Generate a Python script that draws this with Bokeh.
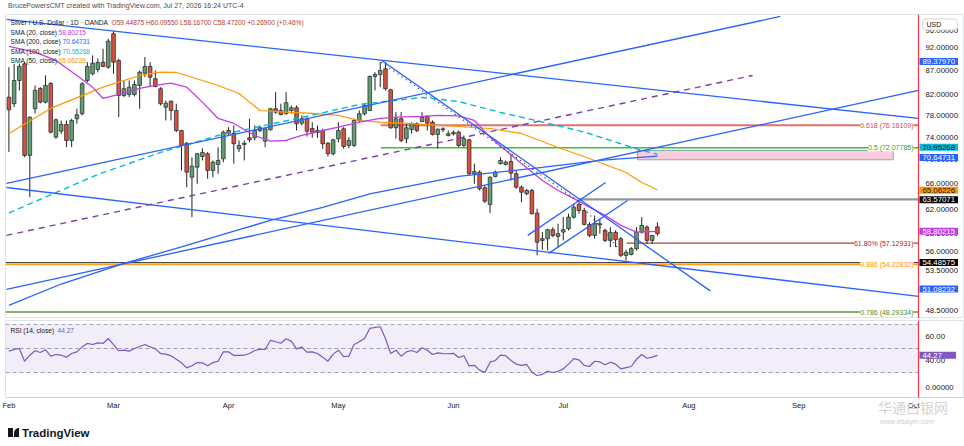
import numpy as np
from bokeh.plotting import figure
from bokeh.models import (ColumnDataSource, Range1d, FixedTicker, Label, Span, BoxAnnotation, Div)
from bokeh.layouts import column
from bokeh.embed import file_html
from bokeh.resources import INLINE

# ---------------- data ----------------
opens = [81.56, 80.26, 84.94, 88.48, 70.76, 79.28, 83.31, 80.57, 84.33, 73.98,
         75.06, 76.31, 73.38, 77.37, 78.32, 84.94, 86.35, 87.26, 88.82, 87.75,
         95.20, 89.19, 81.90, 82.10, 82.10, 83.92, 86.47, 87.90, 85.30, 83.25,
         79.59, 80.76, 78.95, 75.19, 72.90, 67.10, 68.76, 70.58, 71.05, 68.21,
         69.22, 70.18, 75.19, 74.70, 71.92, 72.90, 73.87, 73.87, 75.19, 73.26,
         75.32, 79.28, 78.95, 78.32, 78.95, 79.48, 76.55, 77.37, 75.56, 74.83,
         75.19, 72.90, 71.05, 73.69, 75.50, 72.50, 72.50, 77.05, 78.32, 78.95,
         85.78, 86.20, 87.40, 83.04, 75.69, 77.37, 73.69, 75.38, 76.44, 76.86,
         77.81, 76.73, 74.47, 75.50, 74.28, 74.56, 74.88, 72.50, 73.51, 67.67,
         67.93, 65.39, 62.79, 67.22, 69.34, 69.22, 69.72, 67.67, 65.49, 64.45,
         64.96, 61.47, 57.51, 57.75, 59.03, 58.08, 58.69, 59.18, 60.87, 62.79,
         61.87, 59.80, 58.22, 59.90, 58.93, 57.51, 58.65, 57.75, 55.45, 55.58,
         56.36, 58.69, 59.41, 57.51, 59.44875]
highs = [87.75, 88.48, 88.48, 88.82, 77.81, 83.92, 83.57, 85.99, 84.59, 77.43,
         77.05, 77.05, 77.37, 79.28, 84.59, 88.82, 90.29, 89.63, 91.77, 94.04,
         95.80, 89.56, 84.94, 84.94, 84.94, 87.04, 89.92, 88.82, 87.04, 83.57,
         80.90, 80.90, 80.26, 75.30, 73.08, 70.46, 71.15, 71.97, 71.33, 69.89,
         72.20, 75.19, 75.80, 76.12, 73.38, 73.38, 77.37, 76.12, 76.12, 75.69,
         79.48, 82.56, 80.26, 82.56, 79.93, 79.93, 78.00, 77.68, 76.73, 76.12,
         75.50, 73.08, 73.69, 76.73, 75.80, 74.00, 77.37, 78.95, 80.26, 85.99,
         86.68, 88.82, 88.82, 83.25, 78.63, 78.63, 76.44, 76.73, 76.73, 78.63,
         78.00, 77.05, 75.56, 75.80, 75.19, 75.19, 75.19, 74.28, 73.69, 69.34,
         68.21, 65.76, 67.22, 68.21, 70.46, 69.89, 71.05, 68.21, 65.76, 65.23,
         65.23, 62.13, 58.69, 59.18, 59.41, 59.90, 60.87, 61.38, 62.89, 63.14,
         62.13, 60.13, 61.12, 60.63, 59.18, 59.41, 58.93, 57.98, 56.22, 56.58,
         59.41, 60.87, 59.66, 58.30, 60.09550]
lows = [71.33, 79.59, 82.90, 70.46, 63.91, 78.38, 80.32, 80.32, 74.65, 73.69,
        74.59, 72.20, 72.20, 76.44, 78.00, 84.59, 85.99, 86.62, 87.75, 87.40,
        86.35, 77.68, 81.56, 81.56, 81.70, 79.28, 85.63, 83.57, 83.57, 79.93,
        77.05, 77.05, 74.88, 68.21, 65.49, 60.87, 66.03, 69.89, 66.84, 67.10,
        67.67, 69.60, 74.28, 69.34, 71.33, 69.89, 73.08, 73.38, 74.88, 72.20,
        75.19, 78.32, 78.00, 78.19, 78.32, 75.19, 76.12, 74.10, 73.87, 73.87,
        71.92, 70.58, 70.76, 73.08, 71.92, 72.00, 72.20, 76.73, 78.00, 78.81,
        82.90, 83.57, 82.90, 75.50, 73.69, 73.08, 72.90, 74.65, 74.88, 76.73,
        75.19, 74.28, 71.97, 74.88, 74.10, 74.28, 72.20, 72.20, 67.39, 66.03,
        64.96, 62.99, 61.47, 67.06, 69.22, 69.05, 66.56, 65.23, 63.13, 64.18,
        61.27, 55.45, 56.22, 56.12, 57.98, 56.56, 57.51, 58.93, 60.63, 61.38,
        59.66, 57.98, 57.75, 58.46, 57.27, 56.58, 56.58, 55.22, 54.77, 55.45,
        56.12, 58.46, 57.04, 57.04, 58.16700]
closes = [79.09, 84.94, 87.90, 70.76, 77.68, 82.90, 80.57, 83.92, 74.88, 77.18,
          76.31, 73.38, 77.05, 78.13, 84.27, 87.90, 88.61, 88.76, 87.90, 93.49,
          88.82, 81.90, 83.25, 83.57, 84.12, 86.68, 87.90, 85.63, 83.72, 80.26,
          80.37, 78.95, 75.19, 72.50, 67.93, 68.93, 71.05, 71.27, 68.21, 69.60,
          69.89, 74.88, 74.59, 72.80, 72.50, 72.68, 73.51, 75.19, 75.69, 75.50,
          79.28, 78.63, 78.19, 80.45, 79.48, 76.44, 77.37, 75.06, 74.88, 75.19,
          72.80, 71.05, 73.51, 75.19, 72.32, 73.40, 77.05, 78.32, 79.93, 85.78,
          86.20, 87.04, 83.25, 75.69, 77.37, 73.38, 75.69, 76.44, 75.19, 77.68,
          76.55, 74.47, 75.43, 75.32, 74.59, 74.83, 72.50, 73.69, 67.67, 68.05,
          65.23, 63.29, 67.10, 67.93, 69.89, 69.60, 67.76, 65.49, 64.69, 64.96,
          61.38, 57.27, 57.75, 59.03, 58.22, 58.46, 59.03, 60.87, 62.37, 61.87,
          59.80, 58.22, 59.90, 59.73, 57.51, 58.65, 57.61, 55.45, 55.86, 56.36,
          58.69, 59.66, 57.51, 58.203, 58.47200]

rsi_vals = [47.8, 49.2, 50.0, 39.4, 44.4, 48.1, 46.7, 48.9, 43.6, 45.0,
            44.4, 42.8, 45.8, 47.2, 51.4, 54.2, 53.3, 54.7, 54.2, 58.3,
            53.3, 48.1, 48.6, 47.8, 50.0, 51.7, 53.3, 51.4, 49.7, 45.8,
            45.3, 43.9, 41.1, 38.1, 33.9, 35.6, 38.3, 38.1, 35.6, 38.3,
            39.4, 47.2, 47.2, 44.2, 44.2, 44.4, 45.8, 48.3, 49.2, 49.2,
            56.7, 55.6, 54.4, 58.1, 56.1, 49.7, 51.1, 46.9, 47.2, 45.8,
            42.8, 39.4, 45.3, 48.6, 43.3, 43.6, 53.3, 55.6, 58.3, 66.7,
            67.5, 68.1, 58.3, 45.8, 48.6, 43.6, 47.2, 48.3, 46.7, 50.6,
            48.6, 45.0, 46.4, 45.8, 45.6, 46.0, 42.5, 44.0, 35.5, 36.0,
            32.0, 30.0, 38.6, 40.0, 44.5, 44.0, 40.0, 37.0, 36.0, 36.7,
            30.3, 27.5, 28.5, 31.0, 30.0, 31.0, 33.0, 37.0, 41.5, 40.5,
            36.0, 35.0, 39.4, 38.8, 36.5, 38.6, 37.0, 33.1, 34.0, 35.0,
            41.0, 45.0, 41.9, 42.8, 44.27]

sma20_idx = [0, 5, 9, 13, 16, 18, 21, 25, 28, 31, 34, 37, 40, 43, 47, 50, 53, 56, 60,
             63, 67, 71, 74, 79, 82, 86, 89, 92, 95, 98, 102, 105, 108, 111, 114, 117, 120, 124]
sma20_vals = [92.29, 91.02, 89.19, 85.99, 83.57, 81.30, 82.10, 83.31, 83.92, 84.39, 83.57,
              80.57, 77.43, 76.49, 74.28, 73.26, 73.38, 74.28, 75.19, 75.80, 76.73, 77.43,
              77.68, 77.81, 78.00, 77.91, 77.05, 73.98, 71.62, 69.38, 66.56, 64.96, 63.71,
              62.38, 61.13, 59.66, 58.69, 58.80215]
sma50_idx = [0, 8, 18, 25, 29, 32, 34, 40, 44, 48, 53, 58, 63, 67, 71, 76, 82, 86, 92,
             98, 105, 111, 118, 121, 124]
sma50_vals = [74.65, 79.35, 83.57, 85.99, 86.68, 86.62, 85.99, 83.92, 82.30, 78.95, 78.63,
              78.38, 78.00, 77.05, 76.73, 76.49, 76.12, 75.93, 75.56, 74.65, 72.14, 70.23,
              67.88, 66.24, 65.06226]
sma100_idx = [0, 17, 29, 40, 56, 67, 79, 86, 94, 104, 110, 117, 120, 124]
sma100_vals = [61.50, 67.55, 71.27, 74.28, 77.62, 80.12, 81.50, 80.70, 78.57, 76.30, 74.90,
               72.80, 71.90, 70.95268]
sma200_idx = [0, 10, 22, 33, 44, 50, 60, 69, 86, 102, 113, 124]
sma200_vals = [49.08, 51.71, 54.37, 56.60, 59.03, 60.38, 62.33, 64.43, 67.22, 68.71, 69.89,
               70.64731]

# drawings (anchor points: bar index, price)
trend_xs = [[-0.46, 173.9], [-0.46, 173.9], [-0.46, 173.9], [-0.46, 147.5],
            [71.3, 134.1], [99.2, 114.1], [103.2, 118.3]]
trend_ys = [[98.57, 77.43], [65.43, 50.17], [51.03, 82.90], [66.08, 99.29],
            [89.19, 50.85], [58.22, 66.24], [55.72, 63.40]]
dash_x = [-0.46, 142.2]
dash_y = [58.22, 85.99]
dotted_x = [71.2, 108.9, 117.9]
dotted_y = [88.82, 63.25, 55.22]
level_values = [76.16109, 72.07785, 63.57071, 57.12931, 54.48575, 54.22832, 48.29334]
level_start = [71.1, 71.1, 108.9, 118.1, -0.65, -0.65, -0.65]
fib_values = [76.16109, 72.07785, 57.12931, 54.22832, 48.29334]
fib_names = ["0.618", "0.5", "61.80%", "0.886", "0.786"]
zone_x = [120.2, 169.1]
zone_y = [70.01, 71.62]
tag_values = [89.37970, 70.95268, 70.64731, 65.06226, 63.57071, 58.80215, 54.48575, 51.08232]
price_ticks = [48.5, 51.0, 53.5, 56.0, 58.5, 62.0, 66.0, 70.0, 74.0, 78.0, 82.0, 87.0, 92.0, 96.0]
month_idx = [0, 20, 42, 63, 85, 106, 130, 151, 173]
month_names = ["Feb", "Mar", "Apr", "May", "Jun", "Jul", "Aug", "Sep", "Oct"]
rsi_ticks = [17.5, 40, 60]
rsi_tick_labels = ["0.00000", "40.00", "60.00"]

# ---------------- layout helpers ----------------
FONT = "Liberation Sans"
X0, X1 = -0.65, 173.92          # bar-index span of the chart area (page x 5 .. 918)
PXI = 913 / (X1 - X0)           # pixels per bar
XE = X0 + 959 / PXI             # right end of the canvas (price scale column)
Y0, Y1 = 47.54, 99.77
FH = 304
FTOP = 14
R0, R1 = 9.2, 73.3
RTOP = 320
GREEN, RED, EDGE = "#5f9f73", "#d6513f", "#222222"
LN = np.log(Y1) - np.log(Y0)


def pos_x(xr):
    return X0 + (xr - 5) / PXI


def pos_y(yr):
    return float(np.exp(np.log(Y1) - (yr - FTOP) / FH * LN))


def page_y(price):
    return FTOP + (np.log(Y1) - np.log(price)) / LN * FH


def pos_r(yr):
    return R1 - (yr - RTOP) / 77 * (R1 - R0)


def txt(fig, x, y, text, color="#131722", size="6.6px", align="left", **kw):
    fig.add_layout(Label(x=x, y=y, text=text, text_color=color, text_font=FONT,
                         text_font_size=size, text_align=align, text_baseline="middle", **kw))


def tag(fig, y, text, bg, fg, right=3):
    fig.add_layout(Label(x=pos_x(919), y=y, text=text, text_color=fg, text_font=FONT,
                         text_font_size="7.8px", text_baseline="middle",
                         background_fill_color=bg, background_fill_alpha=1.0,
                         padding=dict(left=3, right=right, top=1, bottom=1)))


def scale_labels(fig, ticks, labels):
    for t, s in zip(ticks, labels):
        txt(fig, pos_x(925), t, s, size="7.8px")


# ---------------- main price pane ----------------
p = figure(frame_width=959, frame_height=FH, x_range=Range1d(X0, XE), y_range=Range1d(Y0, Y1),
           y_axis_type="log", x_axis_location=None, y_axis_location=None,
           toolbar_location=None, output_backend="svg", min_border_left=5,
           min_border_right=0, min_border_top=0, min_border_bottom=0,
           outline_line_color="#e0e3eb", border_fill_color="white")
p.grid.grid_line_color = None

# zone
p.quad(left=[zone_x[0]], right=[zone_x[1]], bottom=[zone_y[0]], top=[zone_y[1]],
       fill_color="#f8bbd0", fill_alpha=0.75, line_color="#7fb0ad", line_width=1)

# horizontal levels
lvl_colors = ["#e06060", "#1fbf1f", "#8a8a8a", "#b22222", "#333333", "#ff9800", "#4e8c2a"]
lvl_widths = [2.2, 1.5, 2.2, 1.2, 1.4, 1.6, 1.6]
for v, s, c, w in zip(level_values, level_start, lvl_colors, lvl_widths):
    p.line([s, X1], [v, v], line_color=c, line_width=w, line_alpha=0.9)

# candles
idx = list(range(len(opens)))
src = ColumnDataSource(dict(
    x=idx, h=highs, l=lows,
    top=[max(o, c) for o, c in zip(opens, closes)],
    bot=[min(o, c) for o, c in zip(opens, closes)],
    fill=[GREEN if c >= o else RED for o, c in zip(opens, closes)]))
p.segment(x0="x", y0="l", x1="x", y1="h", source=src, line_color=EDGE, line_width=1)
p.vbar(x="x", width=0.7, top="top", bottom="bot", fill_color="fill", line_color=EDGE,
       line_width=0.7, source=src)

# moving averages
p.line(sma200_idx, sma200_vals, line_color="#2962ff", line_width=1.3)
p.line(sma100_idx, sma100_vals, line_color="#00bcd4", line_width=1.4, line_dash="6 4")
p.line(sma50_idx, sma50_vals, line_color="#ff9800", line_width=1.2)
p.line(sma20_idx, sma20_vals, line_color="#c23de6", line_width=1.3)

# drawings
p.multi_line(trend_xs, trend_ys, line_color="#2962ff", line_width=1.3)
p.line(dash_x, dash_y, line_color="#7b3fa5", line_width=1.4, line_dash="6 5")
p.line(dotted_x, dotted_y, line_color="#333333", line_width=1.3, line_dash="1 4")
p.add_layout(Span(location=X1, dimension="height", line_color="#f23645", line_width=1.2))

# fib labels
fib_colors = ["#d84a4a", "#1faa1f", "#b22222", "#ff9800", "#4e8c2a"]
for v, n, c in zip(fib_values, fib_names, fib_colors):
    txt(p, pos_x(913), v, f"{n} ({v:.5f})", color=c, size="7px", align="right",
        background_fill_color="white", background_fill_alpha=1.0)

# price scale
scale_labels(p, price_ticks, [f"{t:.5f}" for t in price_ticks])
tag_bg = ["#2962ff", "#00bcd4", "#2962ff", "#ff9800", "#000000", "#c23de6", "#000000", "#2962ff"]
tag_fg = ["white", "#131722", "white", "#131722", "white", "white", "white", "white"]
tag_shift = [2, -7, 1.5, 0.5, 0.5, 0, 0, 0]
for v, bg, fg, sh in zip(tag_values, tag_bg, tag_fg, tag_shift):
    tag(p, pos_y(page_y(v) + sh), f"{v:.5f}", bg, fg)
p.add_layout(Label(x=pos_x(922), y=pos_y(24), text="USD", text_color="#131722",
                   text_font=FONT, text_font_size="7px", text_baseline="middle",
                   background_fill_color="white", border_line_color="#d1d4dc",
                   border_radius=3, padding=dict(left=4, right=16, top=2, bottom=2)))

# legend
o_, h_, l_, c_ = opens[-1], highs[-1], lows[-1], closes[-1]
chg = c_ - closes[-2]
txt(p, pos_x(10), pos_y(22), "Silver / U.S. Dollar · 1D · OANDA")
txt(p, pos_x(111), pos_y(22),
    f"O{o_:.5f} H{h_:.5f} L{l_:.5f} C{c_:.5f} {chg:+.5f} ({chg / closes[-2] * 100:+.2f}%)",
    color="#b23a33")
legend_rows = [("SMA (20, close)", sma20_vals[-1], "#c23de6", 32, 58),
               ("SMA (200, close)", sma200_vals[-1], "#2962ff", 41, 62),
               ("SMA (100, close)", sma100_vals[-1], "#00bcd4", 51, 62),
               ("SMA (50, close)", sma50_vals[-1], "#ff9800", 60, 58)]
for name, v, c, yr, xv in legend_rows:
    txt(p, pos_x(10), pos_y(yr), name)
    txt(p, pos_x(xv), pos_y(yr), f"{v:.5f}", color=c)

# ---------------- RSI pane ----------------
p2 = figure(frame_width=959, frame_height=77, x_range=p.x_range, y_range=Range1d(R0, R1),
            y_axis_location=None, toolbar_location=None, output_backend="svg",
            min_border_left=5, min_border_right=0, min_border_top=2, min_border_bottom=17,
            outline_line_color="#e0e3eb", border_fill_color="white")
p2.grid.grid_line_color = None
p2.add_layout(BoxAnnotation(left=X0, right=X1, bottom=30, top=70, fill_color="#7e57c2",
                            fill_alpha=0.1, line_color=None))
for lv in (70, 50, 30):
    p2.line([X0, X1], [lv, lv], line_color="#a3a6ae", line_width=1, line_dash="4 3")
p2.line(idx, rsi_vals, line_color="#7e57c2", line_width=1.2)
p2.add_layout(Span(location=X1, dimension="height", line_color="#f23645", line_width=1.2))

scale_labels(p2, rsi_ticks, rsi_tick_labels)
tag(p2, rsi_vals[-1], f"{rsi_vals[-1]:.2f}", "#7e57c2", "white", right=14)

xa = p2.xaxis[0]
xa.ticker = FixedTicker(ticks=month_idx)
xa.major_label_overrides = {t: s for t, s in zip(month_idx, month_names)}
xa.major_label_text_font = FONT
xa.major_label_text_font_size = "7.5px"
xa.major_label_text_color = "#131722"
xa.major_tick_line_color = None
xa.minor_tick_line_color = None
xa.major_tick_out = 0
xa.major_tick_in = 0
xa.minor_tick_out = 0
xa.axis_line_color = "#f4c7c7"
xa.major_label_standoff = 3

txt(p2, pos_x(10), pos_r(330), "RSI (14, close)")
txt(p2, pos_x(57), pos_r(330), f"{rsi_vals[-1]:.2f}", color="#7e57c2")

# ---------------- header / footer ----------------
header = Div(text="BrucePowersCMT created with TradingView.com, Jul 27, 2026 16:24 UTC-4",
             width=964, height=14, margin=(0, 0, 0, 0),
             styles={"font-size": "7px", "line-height": "12px", "color": "#4a4d57",
                     "font-family": FONT, "white-space": "nowrap", "padding-left": "8px"})
footer = Div(text='<span style="display:inline-block;width:5px;height:9px;background:#131722;'
                  'margin-right:1px"></span><span style="display:inline-block;width:5px;'
                  'height:9px;background:#131722;border-radius:5px 0 0 0;margin-right:3px">'
                  '</span>TradingView'
                  '<span style="position:absolute;left:878px;top:-17px;font-size:14px;'
                  'font-weight:normal;color:#d4d4d4;font-family:\'Noto Sans CJK SC\'">'
                  '华通白银网</span>'
                  '<span style="position:absolute;left:880px;top:3px;font-size:7px;'
                  'font-weight:normal;color:#cfcfcf">www.ebaiyin.com</span>',
             width=964, height=30, margin=(0, 0, 0, 0),
             styles={"font-size": "11.5px", "font-weight": "bold", "color": "#131722",
                     "font-family": FONT, "padding-top": "11px", "padding-left": "8px",
                     "position": "relative", "overflow": "visible"})

layout = column(header, p, p2, footer, spacing=0)
open("out.html", "w").write(file_html(layout, INLINE))
